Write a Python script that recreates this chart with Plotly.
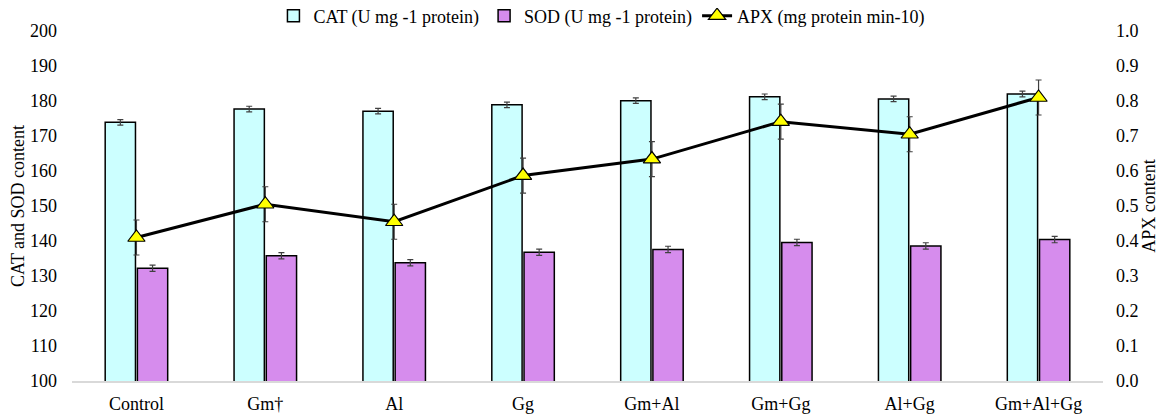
import plotly.graph_objects as go

# treatments on the x axis
treatments = ["Control", "Gm†", "Al", "Gg", "Gm+Al", "Gm+Gg", "Al+Gg", "Gm+Al+Gg"]

# CAT and SOD (left axis)
cat_vals = [173.9, 177.7, 177.1, 178.9, 180.1, 181.2, 180.6, 182.0]
cat_err = [0.8, 0.8, 0.8, 0.8, 0.8, 0.8, 0.8, 0.8]
sod_vals = [132.2, 135.8, 133.8, 136.8, 137.6, 139.6, 138.6, 140.4]
sod_err = [0.9, 0.9, 0.9, 0.9, 0.9, 0.9, 0.9, 0.9]

# APX (right axis)
apx_vals = [0.41, 0.505, 0.455, 0.587, 0.634, 0.741, 0.705, 0.81]
apx_err = [0.05, 0.05, 0.05, 0.05, 0.05, 0.05, 0.05, 0.05]

left_ticks = list(range(100, 201, 10))
right_ticks = [i / 10 for i in range(0, 11)]

serif = "Liberation Serif, Times New Roman, serif"
txt = dict(family=serif, size=18, color="black")
err_style = dict(type="data", thickness=1.2, width=3, color="#404040")

fig = go.Figure()

fig.add_trace(go.Bar(
    x=treatments, y=cat_vals, name="CAT (U mg -1 protein)",
    marker=dict(color="#ccffff", line=dict(color="black", width=1.5)),
    error_y=dict(array=cat_err, **err_style),
))
fig.add_trace(go.Bar(
    x=treatments, y=sod_vals, name="SOD (U mg -1 protein)",
    marker=dict(color="#d68ced", line=dict(color="black", width=1.5)),
    error_y=dict(array=sod_err, **err_style),
))
fig.add_trace(go.Scatter(
    x=treatments, y=apx_vals, name="APX (mg protein min-10)", yaxis="y2",
    mode="lines+markers",
    line=dict(color="black", width=3),
    marker=dict(symbol="triangle-up", size=15, color="#ffff00",
                line=dict(color="black", width=1.2)),
    error_y=dict(array=apx_err, **err_style),
))

# page body has an 8px margin, so the plot box is shifted up/left by that much
fig.update_layout(
    width=1170, height=418,
    margin=dict(l=64, r=75, t=23, b=45, autoexpand=False),
    paper_bgcolor="white", plot_bgcolor="white",
    font=txt,
    barmode="group", bargap=0.5, bargroupgap=0.06,
    showlegend=True,
    legend=dict(orientation="h", x=0.514, xanchor="center", y=1.043, yanchor="middle",
                font=txt, itemwidth=30, tracegroupgap=0),
    xaxis=dict(showline=True, linecolor="#d9d9d9", linewidth=2, ticks="",
               showgrid=False, tickfont=txt, automargin=False, ticklabelstandoff=5),
    yaxis=dict(range=[100, 200], tickvals=left_ticks, showgrid=False, zeroline=False,
               showline=False, ticks="", automargin=False, ticklabelstandoff=14,
               title=dict(text="CAT and SOD content", font=txt, standoff=0),
               tickfont=txt),
    yaxis2=dict(range=[0, 1], tickvals=right_ticks, tickformat=".1f", overlaying="y",
                side="right", showgrid=False, zeroline=False, showline=False, ticks="",
                automargin=False, ticklabelstandoff=12,
                title=dict(text="APX content", font=txt, standoff=4), tickfont=txt),
)

fig.write_html("out.html")
